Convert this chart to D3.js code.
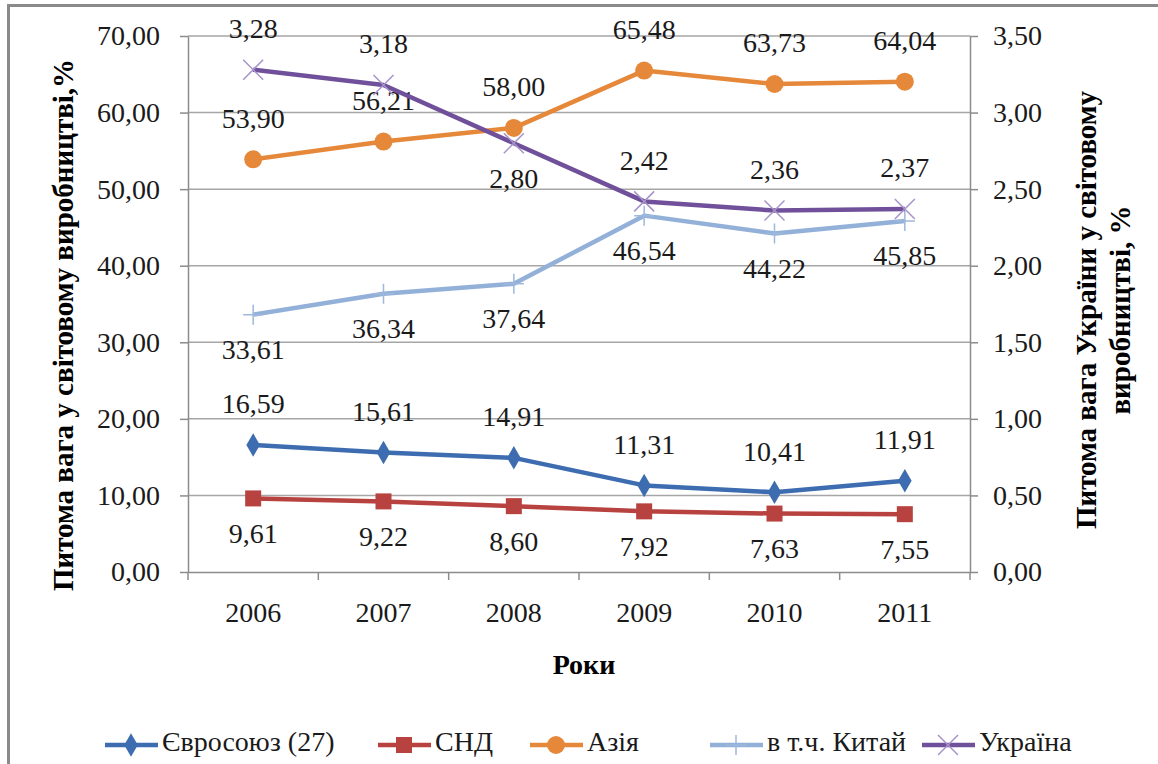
<!DOCTYPE html>
<html>
<head>
<meta charset="utf-8">
<script src="https://cdn.jsdelivr.net/npm/d3@7"></script>
<style>
  body { margin: 0; background: #fff; }
</style>
</head>
<body>
<div id="chart"></div>
<script>
const years = ["2006", "2007", "2008", "2009", "2010", "2011"];
const euValues = [16.59, 15.61, 14.91, 11.31, 10.41, 11.91];
const cisValues = [9.61, 9.22, 8.60, 7.92, 7.63, 7.55];
const asiaValues = [53.90, 56.21, 58.00, 65.48, 63.73, 64.04];
const chinaValues = [33.61, 36.34, 37.64, 46.54, 44.22, 45.85];
const ukraineValues = [3.28, 3.18, 2.80, 2.42, 2.36, 2.37];
const leftTicks = [0, 10, 20, 30, 40, 50, 60, 70];
const rightTicks = [0, 0.5, 1, 1.5, 2, 2.5, 3, 3.5];

const W = 1158, H = 764;
const FONT = '"Liberation Serif"';
const margin = { top: 36, right: 188, bottom: 192, left: 188 };
const width = W - margin.left - margin.right;
const height = H - margin.top - margin.bottom;
const fmt = v => v.toFixed(2).replace(".", ",");

const svg = d3.select("#chart").append("svg").attr("width", W).attr("height", H);

// outer frame
svg.append("rect").attr("x", 8.5).attr("y", 5.5).attr("width", W + 20).attr("height", H + 20)
    .attr("fill", "none").attr("stroke", "#8a8a8a").attr("stroke-width", 3);

const g = svg.append("g").attr("transform", `translate(${margin.left},${margin.top})`);

const x = d3.scaleBand().domain(years).range([0, width]);
const yL = d3.scaleLinear().domain([0, 70]).range([height, 0]);
const yR = d3.scaleLinear().domain([0, 3.5]).range([height, 0]);

// grid lines
g.selectAll(".grid").data(leftTicks.slice(1)).enter().append("line")
    .attr("x1", 0).attr("x2", width).attr("y1", d => yL(d)).attr("y2", d => yL(d))
    .attr("stroke", "#a6a6a6").attr("stroke-width", 1.5);

// axes
const axisStyle = sel => {
    sel.attr("font-family", null).attr("font-size", null);
    sel.select(".domain").attr("stroke", "#8c8c8c").attr("stroke-width", 1.5);
    sel.selectAll(".tick line").attr("stroke", "#8c8c8c").attr("stroke-width", 1.5);
    sel.selectAll("text").style("font-family", FONT).style("font-size", "28px").attr("fill", "#1a1a1a");
};

g.append("g").call(d3.axisLeft(yL).tickValues(leftTicks).tickFormat(fmt).tickSize(8).tickSizeOuter(0).tickPadding(20))
    .call(axisStyle);
g.append("g").attr("transform", `translate(${width},0)`)
    .call(d3.axisRight(yR).tickValues(rightTicks).tickFormat(fmt).tickSize(8).tickSizeOuter(0).tickPadding(15))
    .call(axisStyle);

const xAxis = g.append("g").attr("transform", `translate(0,${height})`)
    .call(d3.axisBottom(x).tickSize(0).tickPadding(30))
    .call(axisStyle);
// category boundary ticks
xAxis.selectAll(".bound").data(d3.range(years.length + 1)).enter().append("line")
    .attr("x1", i => i * x.step()).attr("x2", i => i * x.step())
    .attr("y1", 0).attr("y2", 8).attr("stroke", "#8c8c8c").attr("stroke-width", 1.5);

// axis titles
svg.append("text").attr("x", margin.left + width / 2 + 5).attr("y", 668).attr("text-anchor", "middle")
    .attr("dominant-baseline", "middle").style("font-family", FONT).style("font-size", "28px").style("font-weight", "bold").text("Роки");
svg.append("text").attr("transform", `translate(66,325) rotate(-90)`).attr("text-anchor", "middle")
    .attr("dominant-baseline", "middle").style("font-family", FONT).style("font-size", "29px").style("font-weight", "bold")
    .text("Питома вага у світовому виробництві,%");
const rt = svg.append("text").attr("transform", `translate(1086,310) rotate(-90)`).attr("text-anchor", "middle")
    .style("font-family", FONT).style("font-size", "29px").style("font-weight", "bold");
rt.append("tspan").attr("x", 0).attr("dy", "0.35em").text("Питома вага України у світовому");
rt.append("tspan").attr("x", 0).attr("dy", "1.15em").text("виробництві, %");

// series
const series = [
    { name: "Євросоюз (27)", values: euValues, y: yL, color: "#3d6db0", mark: "diamond", side: [-1, -1, -1, -1, -1, -1] },
    { name: "СНД", values: cisValues, y: yL, color: "#b8423f", mark: "square", side: [1, 1, 1, 1, 1, 1] },
    { name: "Азія", values: asiaValues, y: yL, color: "#e6883a", mark: "circle", side: [-1, -1, -1, -1, -1, -1] },
    { name: "в т.ч. Китай", values: chinaValues, y: yL, color: "#93b1d8", mark: "plus", side: [1, 1, 1, 1, 1, 1] },
    { name: "Україна", values: ukraineValues, y: yR, color: "#70509a", mark: "cross", side: [-1, -1, 1, -1, -1, -1] }
];

function drawMarker(sel, s, cx, cy) {
    if (s.mark === "diamond") {
        sel.append("path").attr("d", d3.symbol(d3.symbolDiamond, 160)()).attr("transform", `translate(${cx},${cy})`).attr("fill", s.color);
    } else if (s.mark === "square") {
        sel.append("rect").attr("x", cx - 8).attr("y", cy - 8).attr("width", 16).attr("height", 16).attr("fill", s.color);
    } else if (s.mark === "circle") {
        sel.append("circle").attr("cx", cx).attr("cy", cy).attr("r", 9).attr("fill", s.color);
    } else if (s.mark === "plus") {
        sel.append("path").attr("d", `M${cx - 10},${cy}H${cx + 10}M${cx},${cy - 10}V${cy + 10}`)
            .attr("stroke", "#9db8dc").attr("stroke-width", 1.5).attr("fill", "none");
    } else if (s.mark === "cross") {
        sel.append("path").attr("d", `M${cx - 10},${cy - 10}L${cx + 10},${cy + 10}M${cx + 10},${cy - 10}L${cx - 10},${cy + 10}`)
            .attr("stroke", "#a693c9").attr("stroke-width", 1.5).attr("fill", "none");
    }
}

series.forEach(s => {
    const pts = s.values.map((v, i) => [x(years[i]) + x.bandwidth() / 2, s.y(v)]);
    g.append("path").datum(pts).attr("d", d3.line()).attr("fill", "none")
        .attr("stroke", s.color).attr("stroke-width", 4.5).attr("stroke-linejoin", "round");
    const mg = g.append("g");
    pts.forEach(p => drawMarker(mg, s, p[0], p[1]));
    g.selectAll(null).data(s.values).enter().append("text")
        .attr("x", (d, i) => pts[i][0]).attr("y", (d, i) => pts[i][1] + s.side[i] * 38)
        .attr("text-anchor", "middle").attr("dominant-baseline", "middle")
        .style("font-family", FONT).style("font-size", "28px").attr("fill", "#1a1a1a").text(d => fmt(d));
});

// legend
const legendX = [105, 378, 530, 710, 922];
const legend = svg.append("g");
series.forEach((s, i) => {
    const lx = legendX[i], ly = 745;
    legend.append("line").attr("x1", lx).attr("x2", lx + 53).attr("y1", ly).attr("y2", ly)
        .attr("stroke", s.color).attr("stroke-width", 4.5);
    drawMarker(legend, s, lx + 26, ly);
    legend.append("text").attr("x", lx + 57).attr("y", ly).attr("dominant-baseline", "middle")
        .style("font-family", FONT).style("font-size", "28px").attr("fill", "#1a1a1a").text(s.name);
});
</script>
</body>
</html>
